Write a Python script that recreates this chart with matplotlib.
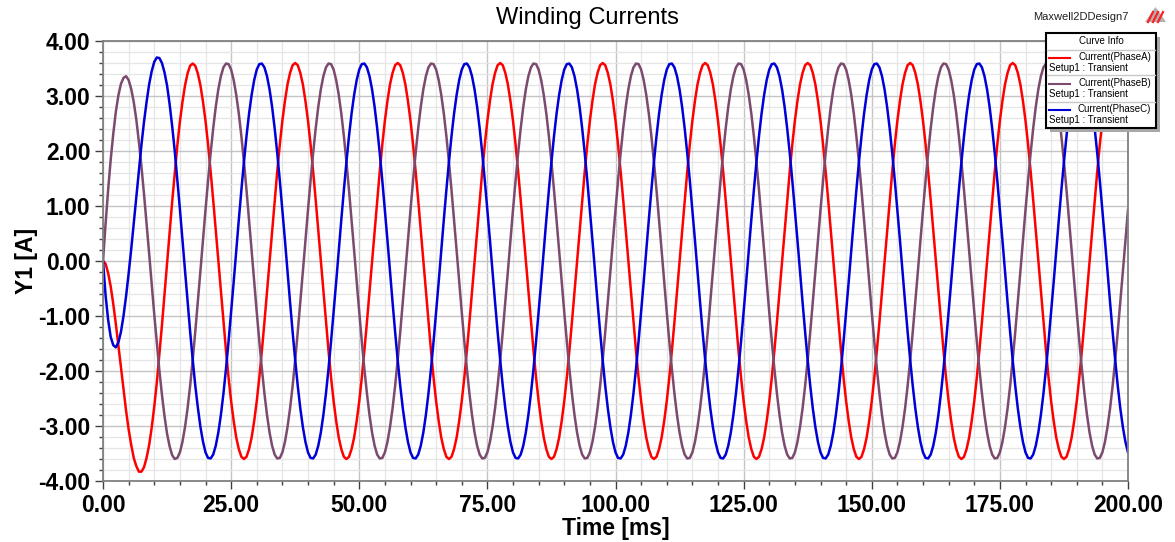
import numpy as np
import matplotlib
matplotlib.use('Agg')
import matplotlib.pyplot as plt
from matplotlib.lines import Line2D
from matplotlib.patches import Rectangle, Polygon
from matplotlib.ticker import MultipleLocator, FormatStrFormatter

plt.rcParams['font.family'] = ['Liberation Sans', 'DejaVu Sans']

# sampled every 0.5 ms, 0..200 ms
time_ms = np.arange(0, 401) * 0.5

current_a = [
    0.00, -0.05, -0.22, -0.46, -0.78, -1.14, -1.53, -1.93, -2.33, -2.72, -3.06, -3.34, -3.58, -3.73, -3.83, -3.83, -3.75, -3.58, -3.35, -3.03,
    -2.65, -2.21, -1.70, -1.17, -0.61, -0.05, 0.52, 1.08, 1.60, 2.10, 2.53, 2.89, 3.19, 3.41, 3.55, 3.59, 3.55, 3.41, 3.20, 2.90,
    2.55, 2.12, 1.63, 1.11, 0.56, 0.00, -0.56, -1.11, -1.63, -2.12, -2.55, -2.91, -3.21, -3.42, -3.56, -3.60, -3.56, -3.42, -3.21, -2.91,
    -2.55, -2.12, -1.63, -1.11, -0.56, 0.00, 0.56, 1.11, 1.63, 2.12, 2.55, 2.91, 3.21, 3.42, 3.56, 3.60, 3.56, 3.42, 3.21, 2.91,
    2.55, 2.12, 1.63, 1.11, 0.56, 0.00, -0.56, -1.11, -1.63, -2.12, -2.55, -2.91, -3.21, -3.42, -3.56, -3.60, -3.56, -3.42, -3.21, -2.91,
    -2.55, -2.12, -1.63, -1.11, -0.56, 0.00, 0.56, 1.11, 1.63, 2.12, 2.55, 2.91, 3.21, 3.42, 3.56, 3.60, 3.56, 3.42, 3.21, 2.91,
    2.55, 2.12, 1.63, 1.11, 0.56, 0.00, -0.56, -1.11, -1.63, -2.12, -2.55, -2.91, -3.21, -3.42, -3.56, -3.60, -3.56, -3.42, -3.21, -2.91,
    -2.55, -2.12, -1.63, -1.11, -0.56, 0.00, 0.56, 1.11, 1.63, 2.12, 2.55, 2.91, 3.21, 3.42, 3.56, 3.60, 3.56, 3.42, 3.21, 2.91,
    2.55, 2.12, 1.63, 1.11, 0.56, 0.00, -0.56, -1.11, -1.63, -2.12, -2.55, -2.91, -3.21, -3.42, -3.56, -3.60, -3.56, -3.42, -3.21, -2.91,
    -2.55, -2.12, -1.63, -1.11, -0.56, 0.00, 0.56, 1.11, 1.63, 2.12, 2.55, 2.91, 3.21, 3.42, 3.56, 3.60, 3.56, 3.42, 3.21, 2.91,
    2.55, 2.12, 1.63, 1.11, 0.56, 0.00, -0.56, -1.11, -1.63, -2.12, -2.55, -2.91, -3.21, -3.42, -3.56, -3.60, -3.56, -3.42, -3.21, -2.91,
    -2.55, -2.12, -1.63, -1.11, -0.56, 0.00, 0.56, 1.11, 1.63, 2.12, 2.55, 2.91, 3.21, 3.42, 3.56, 3.60, 3.56, 3.42, 3.21, 2.91,
    2.55, 2.12, 1.63, 1.11, 0.56, 0.00, -0.56, -1.11, -1.63, -2.12, -2.55, -2.91, -3.21, -3.42, -3.56, -3.60, -3.56, -3.42, -3.21, -2.91,
    -2.55, -2.12, -1.63, -1.11, -0.56, 0.00, 0.56, 1.11, 1.63, 2.12, 2.55, 2.91, 3.21, 3.42, 3.56, 3.60, 3.56, 3.42, 3.21, 2.91,
    2.55, 2.12, 1.63, 1.11, 0.56, 0.00, -0.56, -1.11, -1.63, -2.12, -2.55, -2.91, -3.21, -3.42, -3.56, -3.60, -3.56, -3.42, -3.21, -2.91,
    -2.55, -2.12, -1.63, -1.11, -0.56, 0.00, 0.56, 1.11, 1.63, 2.12, 2.55, 2.91, 3.21, 3.42, 3.56, 3.60, 3.56, 3.42, 3.21, 2.91,
    2.55, 2.12, 1.63, 1.11, 0.56, 0.00, -0.56, -1.11, -1.63, -2.12, -2.55, -2.91, -3.21, -3.42, -3.56, -3.60, -3.56, -3.42, -3.21, -2.91,
    -2.55, -2.12, -1.63, -1.11, -0.56, 0.00, 0.56, 1.11, 1.63, 2.12, 2.55, 2.91, 3.21, 3.42, 3.56, 3.60, 3.56, 3.42, 3.21, 2.91,
    2.55, 2.12, 1.63, 1.11, 0.56, 0.00, -0.56, -1.11, -1.63, -2.12, -2.55, -2.91, -3.21, -3.42, -3.56, -3.60, -3.56, -3.42, -3.21, -2.91,
    -2.55, -2.12, -1.63, -1.11, -0.56, 0.00, 0.56, 1.11, 1.63, 2.12, 2.55, 2.91, 3.21, 3.42, 3.56, 3.60, 3.56, 3.42, 3.21, 2.91,
    2.55,
]

current_b = [
    0.00, 0.67, 1.29, 1.84, 2.31, 2.71, 3.01, 3.22, 3.33, 3.36, 3.29, 3.13, 2.89, 2.57, 2.17, 1.72, 1.22, 0.69, 0.14, -0.42,
    -0.97, -1.49, -1.99, -2.43, -2.82, -3.14, -3.37, -3.53, -3.60, -3.58, -3.48, -3.29, -3.02, -2.68, -2.27, -1.80, -1.29, -0.75, -0.19, 0.38,
    0.93, 1.46, 1.96, 2.41, 2.80, 3.12, 3.36, 3.52, 3.59, 3.58, 3.48, 3.29, 3.02, 2.68, 2.27, 1.80, 1.29, 0.75, 0.19, -0.38,
    -0.93, -1.46, -1.96, -2.41, -2.80, -3.12, -3.36, -3.52, -3.59, -3.58, -3.48, -3.29, -3.02, -2.68, -2.27, -1.80, -1.29, -0.75, -0.19, 0.38,
    0.93, 1.46, 1.96, 2.41, 2.80, 3.12, 3.36, 3.52, 3.59, 3.58, 3.48, 3.29, 3.02, 2.68, 2.27, 1.80, 1.29, 0.75, 0.19, -0.38,
    -0.93, -1.46, -1.96, -2.41, -2.80, -3.12, -3.36, -3.52, -3.59, -3.58, -3.48, -3.29, -3.02, -2.68, -2.27, -1.80, -1.29, -0.75, -0.19, 0.38,
    0.93, 1.46, 1.96, 2.41, 2.80, 3.12, 3.36, 3.52, 3.59, 3.58, 3.48, 3.29, 3.02, 2.68, 2.27, 1.80, 1.29, 0.75, 0.19, -0.38,
    -0.93, -1.46, -1.96, -2.41, -2.80, -3.12, -3.36, -3.52, -3.59, -3.58, -3.48, -3.29, -3.02, -2.68, -2.27, -1.80, -1.29, -0.75, -0.19, 0.38,
    0.93, 1.46, 1.96, 2.41, 2.80, 3.12, 3.36, 3.52, 3.59, 3.58, 3.48, 3.29, 3.02, 2.68, 2.27, 1.80, 1.29, 0.75, 0.19, -0.38,
    -0.93, -1.46, -1.96, -2.41, -2.80, -3.12, -3.36, -3.52, -3.59, -3.58, -3.48, -3.29, -3.02, -2.68, -2.27, -1.80, -1.29, -0.75, -0.19, 0.38,
    0.93, 1.46, 1.96, 2.41, 2.80, 3.12, 3.36, 3.52, 3.59, 3.58, 3.48, 3.29, 3.02, 2.68, 2.27, 1.80, 1.29, 0.75, 0.19, -0.38,
    -0.93, -1.46, -1.96, -2.41, -2.80, -3.12, -3.36, -3.52, -3.59, -3.58, -3.48, -3.29, -3.02, -2.68, -2.27, -1.80, -1.29, -0.75, -0.19, 0.38,
    0.93, 1.46, 1.96, 2.41, 2.80, 3.12, 3.36, 3.52, 3.59, 3.58, 3.48, 3.29, 3.02, 2.68, 2.27, 1.80, 1.29, 0.75, 0.19, -0.38,
    -0.93, -1.46, -1.96, -2.41, -2.80, -3.12, -3.36, -3.52, -3.59, -3.58, -3.48, -3.29, -3.02, -2.68, -2.27, -1.80, -1.29, -0.75, -0.19, 0.38,
    0.93, 1.46, 1.96, 2.41, 2.80, 3.12, 3.36, 3.52, 3.59, 3.58, 3.48, 3.29, 3.02, 2.68, 2.27, 1.80, 1.29, 0.75, 0.19, -0.38,
    -0.93, -1.46, -1.96, -2.41, -2.80, -3.12, -3.36, -3.52, -3.59, -3.58, -3.48, -3.29, -3.02, -2.68, -2.27, -1.80, -1.29, -0.75, -0.19, 0.38,
    0.93, 1.46, 1.96, 2.41, 2.80, 3.12, 3.36, 3.52, 3.59, 3.58, 3.48, 3.29, 3.02, 2.68, 2.27, 1.80, 1.29, 0.75, 0.19, -0.38,
    -0.93, -1.46, -1.96, -2.41, -2.80, -3.12, -3.36, -3.52, -3.59, -3.58, -3.48, -3.29, -3.02, -2.68, -2.27, -1.80, -1.29, -0.75, -0.19, 0.38,
    0.93, 1.46, 1.96, 2.41, 2.80, 3.12, 3.36, 3.52, 3.59, 3.58, 3.48, 3.29, 3.02, 2.68, 2.27, 1.80, 1.29, 0.75, 0.19, -0.38,
    -0.93, -1.46, -1.96, -2.41, -2.80, -3.12, -3.36, -3.52, -3.59, -3.58, -3.48, -3.29, -3.02, -2.68, -2.27, -1.80, -1.29, -0.75, -0.19, 0.38,
    0.93,
]

current_c = [
    0.00, -0.62, -1.07, -1.38, -1.53, -1.57, -1.48, -1.29, -1.00, -0.64, -0.23, 0.21, 0.69, 1.16, 1.66, 2.11, 2.53, 2.89, 3.21, 3.45,
    3.62, 3.70, 3.69, 3.60, 3.43, 3.19, 2.85, 2.45, 2.00, 1.48, 0.95, 0.40, -0.17, -0.73, -1.28, -1.79, -2.26, -2.66, -3.01, -3.28,
    -3.48, -3.58, -3.59, -3.52, -3.36, -3.12, -2.80, -2.41, -1.96, -1.46, -0.93, -0.38, 0.19, 0.75, 1.29, 1.80, 2.27, 2.68, 3.02, 3.29,
    3.48, 3.58, 3.59, 3.52, 3.36, 3.12, 2.80, 2.41, 1.96, 1.46, 0.93, 0.38, -0.19, -0.75, -1.29, -1.80, -2.27, -2.68, -3.02, -3.29,
    -3.48, -3.58, -3.59, -3.52, -3.36, -3.12, -2.80, -2.41, -1.96, -1.46, -0.93, -0.38, 0.19, 0.75, 1.29, 1.80, 2.27, 2.68, 3.02, 3.29,
    3.48, 3.58, 3.59, 3.52, 3.36, 3.12, 2.80, 2.41, 1.96, 1.46, 0.93, 0.38, -0.19, -0.75, -1.29, -1.80, -2.27, -2.68, -3.02, -3.29,
    -3.48, -3.58, -3.59, -3.52, -3.36, -3.12, -2.80, -2.41, -1.96, -1.46, -0.93, -0.38, 0.19, 0.75, 1.29, 1.80, 2.27, 2.68, 3.02, 3.29,
    3.48, 3.58, 3.59, 3.52, 3.36, 3.12, 2.80, 2.41, 1.96, 1.46, 0.93, 0.38, -0.19, -0.75, -1.29, -1.80, -2.27, -2.68, -3.02, -3.29,
    -3.48, -3.58, -3.59, -3.52, -3.36, -3.12, -2.80, -2.41, -1.96, -1.46, -0.93, -0.38, 0.19, 0.75, 1.29, 1.80, 2.27, 2.68, 3.02, 3.29,
    3.48, 3.58, 3.59, 3.52, 3.36, 3.12, 2.80, 2.41, 1.96, 1.46, 0.93, 0.38, -0.19, -0.75, -1.29, -1.80, -2.27, -2.68, -3.02, -3.29,
    -3.48, -3.58, -3.59, -3.52, -3.36, -3.12, -2.80, -2.41, -1.96, -1.46, -0.93, -0.38, 0.19, 0.75, 1.29, 1.80, 2.27, 2.68, 3.02, 3.29,
    3.48, 3.58, 3.59, 3.52, 3.36, 3.12, 2.80, 2.41, 1.96, 1.46, 0.93, 0.38, -0.19, -0.75, -1.29, -1.80, -2.27, -2.68, -3.02, -3.29,
    -3.48, -3.58, -3.59, -3.52, -3.36, -3.12, -2.80, -2.41, -1.96, -1.46, -0.93, -0.38, 0.19, 0.75, 1.29, 1.80, 2.27, 2.68, 3.02, 3.29,
    3.48, 3.58, 3.59, 3.52, 3.36, 3.12, 2.80, 2.41, 1.96, 1.46, 0.93, 0.38, -0.19, -0.75, -1.29, -1.80, -2.27, -2.68, -3.02, -3.29,
    -3.48, -3.58, -3.59, -3.52, -3.36, -3.12, -2.80, -2.41, -1.96, -1.46, -0.93, -0.38, 0.19, 0.75, 1.29, 1.80, 2.27, 2.68, 3.02, 3.29,
    3.48, 3.58, 3.59, 3.52, 3.36, 3.12, 2.80, 2.41, 1.96, 1.46, 0.93, 0.38, -0.19, -0.75, -1.29, -1.80, -2.27, -2.68, -3.02, -3.29,
    -3.48, -3.58, -3.59, -3.52, -3.36, -3.12, -2.80, -2.41, -1.96, -1.46, -0.93, -0.38, 0.19, 0.75, 1.29, 1.80, 2.27, 2.68, 3.02, 3.29,
    3.48, 3.58, 3.59, 3.52, 3.36, 3.12, 2.80, 2.41, 1.96, 1.46, 0.93, 0.38, -0.19, -0.75, -1.29, -1.80, -2.27, -2.68, -3.02, -3.29,
    -3.48, -3.58, -3.59, -3.52, -3.36, -3.12, -2.80, -2.41, -1.96, -1.46, -0.93, -0.38, 0.19, 0.75, 1.29, 1.80, 2.27, 2.68, 3.02, 3.29,
    3.48, 3.58, 3.59, 3.52, 3.36, 3.12, 2.80, 2.41, 1.96, 1.46, 0.93, 0.38, -0.19, -0.75, -1.29, -1.80, -2.27, -2.68, -3.02, -3.29,
    -3.48,
]

series_names = ['Current(PhaseA)', 'Current(PhaseB)', 'Current(PhaseC)']
series_colors = ['#ff0000', '#7b4a6e', '#0000d8']
setup_label = 'Setup1 : Transient'

W, H = 1175, 542


def px(x, y):
    # pixel position -> figure fraction
    return x / W, 1 - y / H


fig = plt.figure(figsize=(W / 100, H / 100), dpi=100)
ax = fig.add_axes([103 / W, 1 - 481 / H, 1025 / W, 440 / H])

for values, color in zip([current_a, current_b, current_c], series_colors):
    ax.plot(time_ms, values, color=color, lw=1.8)

ax.set_xlim(0, 200)
ax.set_ylim(-4, 4)
ax.xaxis.set_major_locator(MultipleLocator(25))
ax.xaxis.set_minor_locator(MultipleLocator(5))
ax.yaxis.set_major_locator(MultipleLocator(1))
ax.yaxis.set_minor_locator(MultipleLocator(0.2))
ax.xaxis.set_major_formatter(FormatStrFormatter('%.2f'))
ax.yaxis.set_major_formatter(FormatStrFormatter('%.2f'))

ax.grid(which='major', color='#c4c4c4', lw=1.0)
ax.grid(which='minor', color='#e6e6e6', lw=0.9)
ax.set_axisbelow(True)

for spine in ax.spines.values():
    spine.set_color('#808080')
    spine.set_linewidth(1.3)

ax.tick_params(which='major', length=6, width=1, color='#404040', pad=3,
               labelsize=16.5)
ax.tick_params(which='minor', length=3, width=1, color='#404040')
for lab in ax.get_xticklabels() + ax.get_yticklabels():
    lab.set_fontweight('bold')

ax.set_xlabel('Time [ms]', fontsize=16.5, fontweight='bold', labelpad=0)
ax.set_ylabel('Y1 [A]', fontsize=16.5, fontweight='bold', labelpad=0)

fig.text(0.5, 1 - 18 / H, 'Winding Currents', fontsize=17, ha='center', va='center')
fig.text(*px(1129, 17.5), 'Maxwell2DDesign7', fontsize=8, ha='right', va='center',
         color='#202020')

# small logo
fig.add_artist(Polygon([px(1145, 22), px(1155.5, 7), px(1166, 22)], closed=True,
                       transform=fig.transFigure, facecolor='#b0b0b0', edgecolor='none'))
for x0 in [1148, 1153, 1158]:
    fig.add_artist(Line2D([px(x0, 22)[0], px(x0 + 5, 12)[0]], [px(x0, 22)[1], px(x0 + 5, 12)[1]],
                          transform=fig.transFigure, color='#ff2020', lw=1.6))

# Curve Info box
bx0, by0, bx1, by1 = 1046, 33, 1156, 128
sx, sy = px(bx0 + 4, by1 + 4)
fig.add_artist(Rectangle((sx, sy), (bx1 - bx0) / W, (by1 - by0) / H,
                         transform=fig.transFigure, facecolor='#a8a8a8',
                         edgecolor='none', zorder=10))
lx, ly = px(bx0, by1)
fig.add_artist(Rectangle((lx, ly), (bx1 - bx0) / W, (by1 - by0) / H,
                         transform=fig.transFigure, facecolor='white',
                         edgecolor='black', lw=1.5, zorder=11))
fig.text(*px(1101, 41.5), 'Curve Info', fontsize=7, ha='center', va='center', zorder=12)
for ysep in [49.5, 75.5, 101.5]:
    fig.add_artist(Line2D([px(bx0 + 1, 0)[0], px(bx1 - 1, 0)[0]], [px(0, ysep)[1]] * 2,
                          transform=fig.transFigure, color='#c8c8c8', lw=1, zorder=12))
for i, (name, color) in enumerate(zip(series_names, series_colors)):
    yl = 57.5 + 26 * i
    fig.add_artist(Line2D([px(1049, 0)[0], px(1070, 0)[0]], [px(0, yl)[1]] * 2,
                          transform=fig.transFigure, color=color, lw=1.5, zorder=12))
    fig.text(*px(1151, yl), name, fontsize=7, ha='right', va='center', zorder=12)
    fig.text(*px(1049, yl + 10.5), setup_label, fontsize=7, ha='left', va='center', zorder=12)

fig.savefig('out.png', dpi=100)
